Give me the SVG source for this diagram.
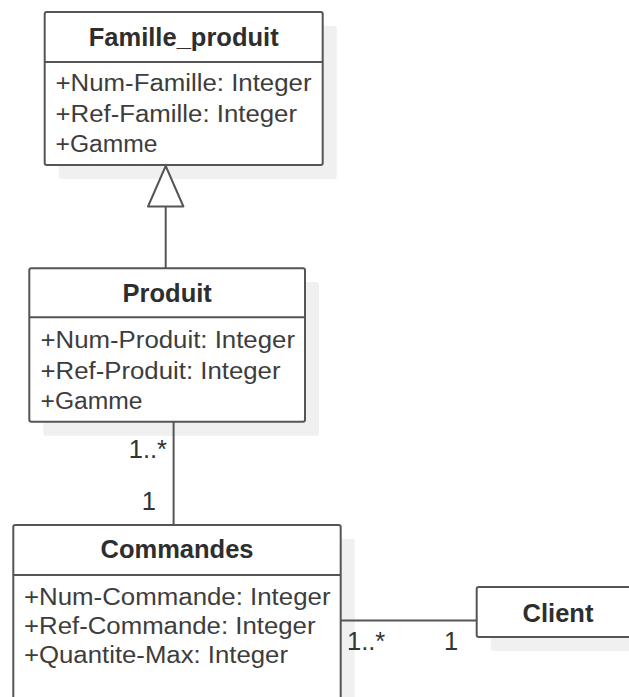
<svg xmlns="http://www.w3.org/2000/svg" width="629" height="697" viewBox="0 0 629 697">
<style>
.bg{fill:#ffffff}
.shadow{fill:#f0f0f0}
.box{fill:#ffffff;stroke:#555555;stroke-width:2}
.div{stroke:#555555;stroke-width:2}
.edge{stroke:#555555;stroke-width:2;fill:none}
.tri{fill:#ffffff;stroke:#555555;stroke-width:2;stroke-linejoin:round}
.title{font-family:"Liberation Sans",Arial,sans-serif;font-weight:bold;font-size:25.5px;fill:#2e2e2e;text-anchor:middle}
.attr{font-family:"Liberation Sans",Arial,sans-serif;font-size:23px;fill:#3d3d3d}
.mult{font-family:"Liberation Sans",Arial,sans-serif;font-size:25.5px;fill:#333333}
</style>
<rect class="bg" x="0" y="0" width="629" height="697"/>
<g id="shadows">
<rect class="shadow" x="58.7" y="26" width="278" height="153" rx="2"/>
<rect class="shadow" x="43.3" y="282.3" width="275.7" height="153.4" rx="2"/>
<rect class="shadow" x="27.3" y="539" width="327.4" height="200" rx="2"/>
<rect class="shadow" x="490.7" y="601" width="170" height="50" rx="2"/>
</g>
<g id="connectors">
<line class="edge" x1="165.7" y1="206.5" x2="165.7" y2="268.3"/>
<polygon class="tri" points="165.7,166 148,206.5 183.4,206.5"/>
<line class="edge" x1="173.6" y1="421.7" x2="173.6" y2="525"/>
<line class="edge" x1="340.7" y1="620.5" x2="476.7" y2="620.5"/>
<text class="mult" x="167" y="458" text-anchor="end">1..*</text>
<text class="mult" x="156" y="510" text-anchor="end">1</text>
<text class="mult" x="347" y="650">1..*</text>
<text class="mult" x="444" y="650">1</text>
</g>
<g id="famille_produit">
<rect class="box" x="44.7" y="12" width="278" height="153" rx="2"/>
<line class="div" x1="44.7" y1="62" x2="322.7" y2="62"/>
<text class="title" x="183.7" y="45.5">Famille_produit</text>
<text class="attr" x="55.5" y="91" textLength="256" lengthAdjust="spacingAndGlyphs">+Num-Famille: Integer</text>
<text class="attr" x="55.5" y="121.5" textLength="241.5" lengthAdjust="spacingAndGlyphs">+Ref-Famille: Integer</text>
<text class="attr" x="55.5" y="152" textLength="102" lengthAdjust="spacingAndGlyphs">+Gamme</text>
</g>
<g id="produit">
<rect class="box" x="29.3" y="268.3" width="275.7" height="153.4" rx="2"/>
<line class="div" x1="29.3" y1="317.3" x2="305" y2="317.3"/>
<text class="title" x="167.2" y="301.5">Produit</text>
<text class="attr" x="40.5" y="348" textLength="254.5" lengthAdjust="spacingAndGlyphs">+Num-Produit: Integer</text>
<text class="attr" x="40.5" y="378.5" textLength="240" lengthAdjust="spacingAndGlyphs">+Ref-Produit: Integer</text>
<text class="attr" x="40.5" y="409" textLength="102" lengthAdjust="spacingAndGlyphs">+Gamme</text>
</g>
<g id="commandes">
<rect class="box" x="13.3" y="525" width="327.4" height="200" rx="2"/>
<line class="div" x1="13.3" y1="575" x2="340.7" y2="575"/>
<text class="title" x="177" y="558">Commandes</text>
<text class="attr" x="24" y="605" textLength="306.5" lengthAdjust="spacingAndGlyphs">+Num-Commande: Integer</text>
<text class="attr" x="24" y="634" textLength="291.5" lengthAdjust="spacingAndGlyphs">+Ref-Commande: Integer</text>
<text class="attr" x="24" y="663" textLength="264" lengthAdjust="spacingAndGlyphs">+Quantite-Max: Integer</text>
</g>
<g id="client">
<rect class="box" x="476.7" y="587" width="170" height="50" rx="2"/>
<text class="title" x="558" y="622">Client</text>
</g>
</svg>
